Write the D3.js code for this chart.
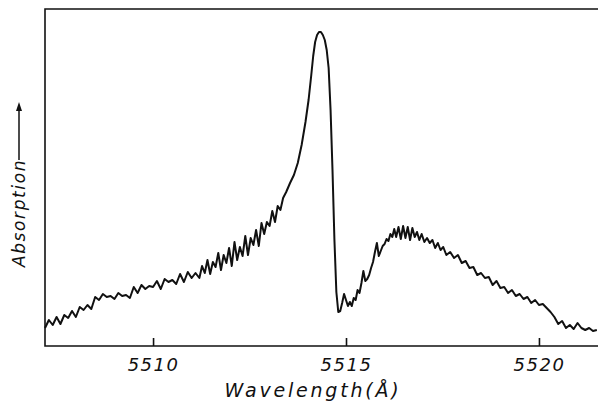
<!DOCTYPE html>
<html>
<head>
<meta charset="utf-8">
<script src="https://cdn.jsdelivr.net/npm/d3@7"></script>
<style>
  body { margin: 0; background: #fff; }
  svg { display: block; }
  .label { font-family: "DejaVu Sans", sans-serif; font-style: italic; fill: #111; }
</style>
</head>
<body>
<div id="chart"></div>
<script>
// absorption spectrum, arbitrary units
var wavelength = [
  5507.2, 5507.3, 5507.4, 5507.5, 5507.6, 5507.7, 5507.8, 5507.9, 5508.0, 5508.1,
  5508.2, 5508.3, 5508.4, 5508.5, 5508.6, 5508.7, 5508.8, 5508.9, 5509.0, 5509.1,
  5509.2, 5509.3, 5509.4, 5509.5, 5509.6, 5509.7, 5509.8, 5509.9, 5510.0, 5510.1,
  5510.2, 5510.3, 5510.4, 5510.5, 5510.6, 5510.7, 5510.8, 5510.9, 5511.0, 5511.1,
  5511.2,
  5511.27, 5511.34, 5511.41, 5511.48, 5511.55, 5511.62, 5511.69, 5511.76, 5511.83, 5511.90,
  5511.97, 5512.04, 5512.11, 5512.18, 5512.25, 5512.32, 5512.39, 5512.46, 5512.53, 5512.60,
  5512.67, 5512.74, 5512.81, 5512.88, 5512.95, 5513.02, 5513.09, 5513.16, 5513.23, 5513.30,
  5513.37,
  5513.45, 5513.55, 5513.65, 5513.75, 5513.85, 5513.95, 5514.03, 5514.10, 5514.15, 5514.20,
  5514.25, 5514.30, 5514.35, 5514.40, 5514.45, 5514.50, 5514.55, 5514.60, 5514.65, 5514.70,
  5514.75, 5514.80, 5514.85, 5514.90, 5514.95, 5515.00, 5515.05, 5515.10, 5515.15, 5515.20,
  5515.25, 5515.30, 5515.35, 5515.40, 5515.45, 5515.50, 5515.55, 5515.60, 5515.65, 5515.70,
  5515.75, 5515.80, 5515.85, 5515.90, 5515.95, 5516.00, 5516.05, 5516.10, 5516.15, 5516.20,
  5516.25, 5516.30, 5516.36, 5516.42, 5516.48, 5516.54, 5516.60, 5516.66, 5516.72, 5516.78,
  5516.84, 5516.90, 5516.96, 5517.03, 5517.10, 5517.17, 5517.24, 5517.31, 5517.38, 5517.45,
  5517.52, 5517.60, 5517.70, 5517.80, 5517.90, 5518.00, 5518.10, 5518.20, 5518.30, 5518.40,
  5518.50, 5518.60, 5518.70, 5518.80, 5518.90, 5519.00, 5519.10, 5519.20, 5519.30, 5519.40,
  5519.50, 5519.60, 5519.70, 5519.80, 5519.90, 5520.00, 5520.10, 5520.20, 5520.30, 5520.40,
  5520.50, 5520.60, 5520.70, 5520.80, 5520.90, 5521.00, 5521.10, 5521.20, 5521.30, 5521.40,
  5521.50
];

var absorption = [
  1.8, 2.6, 2.1, 2.9, 2.2, 3.1, 2.8, 3.5, 2.9, 3.9,
  3.6, 4.1, 3.7, 4.9, 4.6, 5.2, 4.9, 5.0, 4.7, 5.3,
  5.0, 5.1, 4.8, 5.9, 5.3, 6.1, 5.7, 6.0, 5.9, 6.5,
  5.7, 6.7, 6.4, 6.6, 6.2, 7.2, 6.4, 7.4, 6.8, 7.3,
  6.8,
  8.0, 7.3, 8.6, 7.2, 8.4, 7.9, 9.3, 7.6, 9.1, 8.3,
  9.8, 8.0, 10.4, 8.6, 9.9, 9.0, 11.0, 9.1, 10.8, 10.1,
  11.6, 10.0, 12.3, 11.2, 12.4, 12.0, 13.5, 12.4, 14.0, 13.6,
  14.8,
  15.4, 16.3, 17.1, 18.3, 20.1, 22.4, 24.6, 27.1, 29.0, 30.4,
  31.1, 31.4, 31.4, 31.1, 30.6, 29.6, 27.8, 23.6, 17.6, 10.6,
  5.4, 3.4, 3.5, 4.3, 5.2, 4.6, 4.0, 4.4, 4.0, 4.8,
  4.6, 5.6, 5.3, 6.3, 7.5, 6.5, 6.7, 7.1, 7.8, 8.4,
  9.4, 10.3, 9.0, 9.5, 10.0, 10.2, 10.7, 10.5, 11.2, 10.9,
  11.7, 10.9, 11.9, 10.7, 12.0, 10.8, 11.9, 10.6, 11.8, 10.9,
  11.4, 10.6, 11.2, 10.4, 10.8, 10.3, 10.6, 9.8, 10.3, 9.6,
  9.9, 9.1, 9.4, 8.8, 9.1, 8.3, 8.5, 7.8, 7.9, 7.1,
  7.3, 6.8, 6.9, 6.1, 6.5, 5.8, 5.9, 5.3, 5.6, 5.0,
  5.2, 4.7, 4.9, 4.3, 4.6, 4.1, 4.2, 3.8, 3.4, 2.9,
  2.2, 2.5, 1.8, 2.1, 1.7, 2.3, 1.8, 1.6, 1.8, 1.5,
  1.6
];

var tickValues = [5510, 5515, 5520];
var tickLabels = ["5510", "5515", "5520"];

var width = 598, height = 405;
var margin = {top: 9, right: 0, bottom: 59, left: 45};

var svg = d3.select("#chart").append("svg")
    .attr("width", width)
    .attr("height", height);

var x = d3.scaleLinear()
    .domain([5507.2, 5521.53])
    .range([margin.left, width - margin.right]);

var y = d3.scaleLinear()
    .domain([0, 33.7])
    .range([height - margin.bottom, margin.top]);

var points = wavelength.map(function(w, i) { return [w, absorption[i]]; });

// frame: left, top, bottom (no right edge in the original)
var frame = svg.append("g")
    .attr("fill", "none")
    .attr("stroke", "#111")
    .attr("stroke-width", 1.6);

frame.append("path")
    .attr("d", "M" + x(5521.53) + "," + y(33.7) +
               "H" + x(5507.2) +
               "V" + y(0) +
               "H" + x(5521.53));

// ticks point up into the plot
var xAxis = d3.axisBottom(x)
    .tickValues(tickValues)
    .tickSizeInner(-8)
    .tickSizeOuter(0)
    .tickPadding(12)
    .tickFormat(function(d, i) { return tickLabels[i]; });

var gx = svg.append("g")
    .attr("transform", "translate(0," + y(0) + ")")
    .call(xAxis);

gx.select(".domain").remove();
gx.selectAll(".tick line").attr("stroke", "#111").attr("stroke-width", 1.6);
gx.selectAll(".tick text")
    .attr("class", "label")
    .attr("font-size", 18)
    .attr("letter-spacing", 1.5);

svg.append("path")
    .datum(points)
    .attr("fill", "none")
    .attr("stroke", "#111")
    .attr("stroke-width", 2)
    .attr("stroke-linejoin", "round")
    .attr("d", d3.line()
        .x(function(d) { return x(d[0]); })
        .y(function(d) { return y(d[1]); }));

svg.append("text")
    .attr("class", "label")
    .attr("x", 313)
    .attr("y", 397)
    .attr("text-anchor", "middle")
    .attr("font-size", 19)
    .attr("letter-spacing", 2.8)
    .text("Wavelength(Å)");

// y label with arrow
var ylab = svg.append("g").attr("transform", "translate(25,267) rotate(-90)");

ylab.append("text")
    .attr("class", "label")
    .attr("font-size", 17)
    .attr("letter-spacing", 1.6)
    .text("Absorption");

ylab.append("line")
    .attr("x1", 107).attr("y1", -6)
    .attr("x2", 160).attr("y2", -6)
    .attr("stroke", "#111")
    .attr("stroke-width", 1.5);

ylab.append("path")
    .attr("d", "M165,-6 L156,-9 L156,-3 Z")
    .attr("fill", "#111");
</script>
</body>
</html>
